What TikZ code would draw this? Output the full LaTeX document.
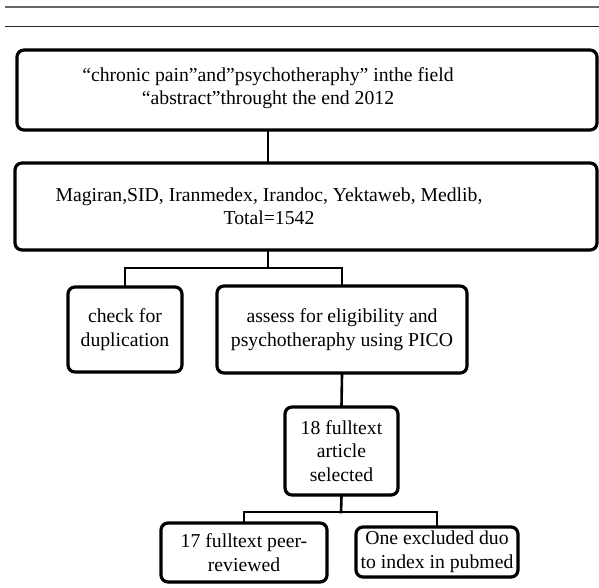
\documentclass[tikz,border=0pt]{standalone}
\usepackage{fontspec}
\setmainfont{Liberation Serif}
\usetikzlibrary{shadows}

\begin{document}
\begin{tikzpicture}[
    x=1pt,
    y=1pt,
    box/.style={draw,line width=3.2pt,rounded corners=7pt,fill=white,
      drop shadow={opacity=.25,shadow xshift=1pt,shadow yshift=-1.5pt}},
    txt/.style={align=center,font=\fontsize{19.7}{23.5}\selectfont,inner sep=0pt},
    link/.style={line width=2.6pt,line cap=rect},
  ]
  \useasboundingbox (0,0) rectangle (599,-588);
  \draw[gray!80!black,line width=1.5pt] (5,-7) -- (599,-7);
  \draw[black!85,line width=1pt] (5,-27) -- (599,-27);

  \node[box,minimum width=580,minimum height=80] (search) at (307,-90) {};
  \node[txt] (searchtxt) at (268,-88) {“chronic pain”and”psychotheraphy” inthe field\\“abstract”throught the end 2012};

  \node[box,minimum width=582,minimum height=87] (databases) at (306,-206.5) {};
  \node[txt] (databasestxt) at (269,-206.5) {Magiran,SID, Iranmedex, Irandoc, Yektaweb, Medlib,\\Total=1542};

  \node[box,txt,minimum width=114,minimum height=85] (dup) at (125,-329.5) {check for\\duplication};
  \node[box,txt,minimum width=250,minimum height=87] (assess) at (342,-329.5) {assess for eligibility and\\psychotheraphy using PICO};
  \node[box,txt,minimum width=113,minimum height=88] (selected) at (341.5,-451) {18 fulltext\\article\\selected};
  \node[box,txt,minimum width=166,minimum height=59] (reviewed) at (244,-552.5) {17 fulltext peer-\\reviewed};
  \node[box,txt,minimum width=162,minimum height=50] (excluded) at (437,-552) {One excluded duo\\to index in pubmed};

  \coordinate (split1) at (268,-268);
  \coordinate (split2) at (341,-512);

  \draw[link] (searchtxt |- search.south) -- (searchtxt |- databases.north);
  \draw[link] (split1 |- databases.south) -- (split1);
  \draw[link] (dup.north) |- (split1) -| (assess.north);
  \draw[link] (assess.south) -- (selected.north);
  \draw[link] (selected.south) -- (split2);
  \draw[link] (reviewed.north) |- (split2) -| (excluded.north);
\end{tikzpicture}
\end{document}
